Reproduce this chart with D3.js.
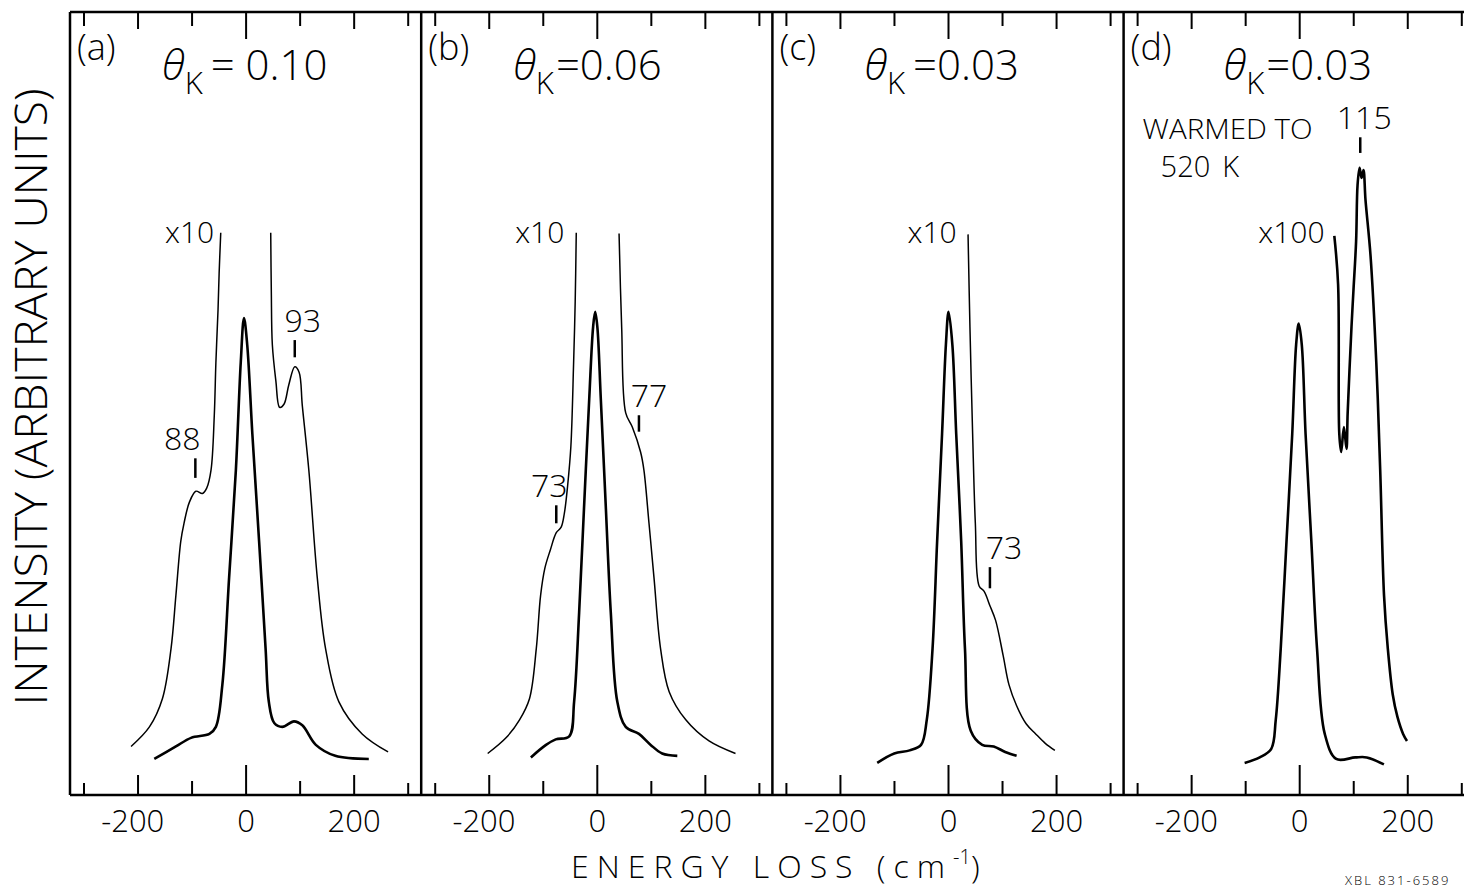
<!DOCTYPE html>
<html lang="en">
<head>
<meta charset="UTF-8">
<title>Energy loss spectra</title>
<style>
  body { margin: 0; background: #fff; }
  svg text { font-family: "Open Sans", Lato, "DejaVu Sans", sans-serif; font-weight: 300; fill: #000; }
  .frame line { stroke: #000; stroke-width: 2.5px; }
  .axis path, .axis line { stroke: #000; stroke-width: 2px; }
  .axis text { font-size: 31px; }
  .thick { fill: none; stroke: #000; stroke-width: 2.6px; stroke-linejoin: round; }
  .thin { fill: none; stroke: #000; stroke-width: 1.5px; stroke-linejoin: round; }
</style>
</head>
<body>
<div class="chart"></div>
<script src="https://cdnjs.cloudflare.com/ajax/libs/d3/7.8.5/d3.min.js"></script>
<script>
// panel captions
const panelTags = ["(a)", "(b)", "(c)", "(d)"];
const thetaK = ["0.10", "0.06", "0.03", "0.03"];
const gainLabels = ["x10", "x10", "x10", "x100"];
const xTicks = [-300, -200, -100, 0, 100, 200, 300];
const xTickLabels = [-200, 0, 200];

// [energy loss (cm-1), intensity (arb.)]
const aMain = [[-169,4.6],[-129,6.2],[-101,7.3],[-67,7.8],[-55,8.7],[-43,14.1],[-30.5,27.8],[-18,41.5],[-9,55.2],[-3,60.9],[3,57.5],[12.5,46.1],[25,32.4],[37,18.7],[43,11.9],[53,9.2],[68,8.7],[89.5,9.4],[105,8.9],[130,6.4],[166,5.0],[228,4.6]];
const aWingL = [[-212,6.2],[-178,8.7],[-154,12.3],[-138,18.7],[-129,25.5],[-120,32.4],[-114,34.7],[-104,37.4],[-92,38.8],[-80,38.5],[-72,39.2],[-64,41.5],[-58,48.4],[-55,55.2],[-51,62],[-49,66.6],[-46,71.8]];
const aWingR = [[46.5,71.8],[47.6,64.3],[49.5,57.5],[56,52.9],[63,49.5],[71,49.9],[80,52.4],[91,54.7],[99,54.0],[105,49.7],[117,41.5],[132.6,27.8],[148,18.7],[172.7,11.9],[215.7,7.8],[263.7,5.5]];

const bMain = [[-122,4.8],[-94,6.4],[-76,7.1],[-51,7.5],[-42,11.9],[-32.7,23.3],[-23.5,36.9],[-14,50.6],[-6.8,59.8],[-3,61.7],[1,59.8],[7.4,50.6],[16.6,36.9],[25.9,23.3],[38,11.9],[53.5,8.7],[78,7.8],[99.7,6.4],[121,5.3],[149,5.0]];
const bWingL = [[-202,5.3],[-168,7.3],[-143,9.6],[-124.6,12.3],[-112,18.7],[-104,25.5],[-96,29.0],[-86,31.3],[-75,33.5],[-66,34.2],[-60,36.0],[-54,39.5],[-48,44.5],[-43,55.0],[-40,63.0],[-38,71.8]];
const bWingR = [[41.2,71.7],[46,59.8],[53.5,48.8],[65.7,47],[81,43.8],[87.2,41.5],[96.6,34.7],[105.8,27.8],[118,18.7],[133.9,13.2],[164.7,9.6],[207.7,6.9],[256.7,5.3]];

const cMain = [[-131,4.1],[-99.5,5.3],[-71,5.7],[-49.9,6.4],[-39.3,9.6],[-28.6,18.7],[-20.1,32.4],[-11,46.1],[-3.9,57.5],[1,61.7],[8.1,57.5],[15.2,46.1],[24.4,32.4],[31.4,18.7],[42.1,8.2],[63.3,6.4],[84.6,6.2],[105.8,5.5],[127,5.0]];
const cWingR = [[37.1,71.6],[40.6,59.8],[45.6,46.1],[50.6,34.7],[57.6,26.7],[66.9,26.0],[77.4,24.2],[88.1,22.3],[102.1,17.8],[112.8,14.1],[127,11.4],[144.6,9.1],[162.3,7.8],[180,6.6],[197.8,5.7]];

const dMain = [[-101,4.1],[-73,4.8],[-51.7,5.9],[-43.4,9.6],[-34.2,18.7],[-23.5,32.4],[-12.9,46.1],[-5.7,57.5],[-0.9,60.2],[4.8,57.5],[11.8,46.1],[22.5,32.4],[33,18.7],[47.3,7.8],[68.5,4.6],[103.8,4.8],[125,4.8],[156.8,3.9]];
const dWingR = [[65,71.4],[72,65.2],[74.2,46.1],[77.7,43.8],[82.7,47],[87.5,44.2],[89.7,48.8],[96.8,59.8],[100.3,64.3],[105.3,70.7],[108,77.9],[111.7,80.1],[115.4,78.8],[119,79.8],[122.7,76],[132,68.9],[142.7,55.2],[149.9,41.5],[157,25.5],[164,18.7],[173.2,12.8],[181.7,10.0],[192.3,7.8],[199.5,6.9]];

const mainCurves = [aMain, bMain, cMain, dMain];
const wingCurves = [[aWingL, aWingR], [bWingL, bWingR], [cWingR], [dWingR]];

// peak marks: panel, energy, tick bottom/top intensity, label
const peakMarks = [
  {p: 0, e: -93, i0: 40.5, i1: 43.0, label: "88"},
  {p: 0, e: 91, i0: 55.9, i1: 58.1, label: "93"},
  {p: 1, e: -75, i0: 34.7, i1: 37.0, label: "73"},
  {p: 1, e: 78, i0: 46.4, i1: 48.5, label: "77"},
  {p: 2, e: 77.6, i0: 26.4, i1: 29.1, label: "73"},
  {p: 3, e: 113, i0: 82.0, i1: 84.0, label: "115"}
];
// horizontal nudge of each peak label from its tick (px)
const peakLabelShift = [-13, 8, -7, 10, 14, 4];

const width = 1464, height = 888;
const plotTop = 12, plotBottom = 795;
const panelLeft = 70, panelW = 351.2;

const svg = d3.select(".chart").append("svg")
  .attr("width", width)
  .attr("height", height);

const y = d3.scaleLinear().domain([0, 100]).range([plotBottom, plotTop]);

const line = d3.line()
  .x(d => d[0]).y(d => d[1])
  .curve(d3.curveCatmullRom.alpha(0.5));

// tick lengths (bottom / top)
function botLen(v) { return v === 0 ? 30 : Math.abs(v) === 200 ? 20 : Math.abs(v) === 300 ? 12 : 14; }
function topLen(v) { return v === 0 ? 27 : Math.abs(v) === 200 ? 17 : 14; }

panelTags.forEach(function (tag, i) {
  const left = panelLeft + i * panelW;
  const x = d3.scaleLinear().domain([-325, 325]).range([left, left + panelW]);
  const g = svg.append("g").attr("class", "panel");

  // bottom axis with labels
  const bAxis = g.append("g").attr("class", "axis")
    .attr("transform", "translate(0," + plotBottom + ")")
    .call(d3.axisBottom(x).tickValues(xTicks).tickSize(-14).tickSizeOuter(0).tickPadding(15)
      .tickFormat(d => xTickLabels.includes(d) ? (d < 0 ? "-" + Math.abs(d) : d) : ""));
  bAxis.selectAll(".tick line").attr("y2", d => -botLen(d));
  bAxis.selectAll(".tick text").attr("dx", d => d < 0 ? "-0.17em" : 0);
  bAxis.select(".domain").remove();

  // top axis, ticks only
  const tAxis = g.append("g").attr("class", "axis")
    .attr("transform", "translate(0," + plotTop + ")")
    .call(d3.axisTop(x).tickValues(xTicks).tickSize(-14).tickSizeOuter(0).tickFormat(""));
  tAxis.selectAll(".tick line").attr("y2", d => topLen(d));
  tAxis.select(".domain").remove();

  // curves
  g.append("path").attr("class", "thick")
    .attr("d", line(mainCurves[i].map(d => [x(d[0]), y(d[1])])));
  wingCurves[i].forEach(function (w) {
    g.append("path").attr("class", i === 3 ? "thick" : "thin")
      .attr("d", line(w.map(d => [x(d[0]), y(d[1])])));
  });

  // captions
  g.append("text").attr("x", left + 7).attr("y", 60)
    .attr("font-size", 36).text(tag);
  const th = g.append("text").attr("x", left + 92 + (i === 3 ? 8 : 0)).attr("y", 80)
    .attr("font-size", 42);
  th.append("tspan").attr("font-style", "italic").text("θ");
  th.append("tspan").attr("font-size", 31).attr("dy", 14).text("K");
  th.append("tspan").attr("dy", -14).attr("dx", i === 0 || i === 2 ? 8 : 2).text((i === 0 ? "= " : "=") + thetaK[i]);

  // gain label next to the clipped wing
  const gainE = [-58, -60, 16, 47][i];
  g.append("text").attr("x", x(gainE)).attr("y", y(70.5))
    .attr("text-anchor", "end").attr("font-size", 30).text(gainLabels[i]);
});

// peak marks
peakMarks.forEach(function (m, k) {
  const left = panelLeft + m.p * panelW;
  const x = d3.scaleLinear().domain([-325, 325]).range([left, left + panelW]);
  svg.append("line")
    .attr("x1", x(m.e)).attr("x2", x(m.e))
    .attr("y1", y(m.i0)).attr("y2", y(m.i1))
    .attr("stroke", "#000").attr("stroke-width", 2.5);
  svg.append("text")
    .attr("x", x(m.e) + peakLabelShift[k]).attr("y", y(m.i1) - 8)
    .attr("text-anchor", "middle").attr("font-size", 32).text(m.label);
});

// warmed note in panel (d)
const noteLeft = panelLeft + 3 * panelW;
svg.append("text").attr("x", noteLeft + 19).attr("y", 139).attr("font-size", 28)
  .attr("textLength", 170).attr("lengthAdjust", "spacingAndGlyphs").text("WARMED TO");
const n2 = svg.append("text").attr("x", noteLeft + 37).attr("y", 177).attr("font-size", 29);
n2.append("tspan").text("520");
n2.append("tspan").attr("dx", 12).text("K");

// frame
const frame = svg.append("g").attr("class", "frame");
frame.append("line").attr("x1", panelLeft).attr("x2", width).attr("y1", plotTop).attr("y2", plotTop);
frame.append("line").attr("x1", panelLeft).attr("x2", width).attr("y1", plotBottom).attr("y2", plotBottom);
d3.range(5).forEach(function (k) {
  frame.append("line")
    .attr("x1", panelLeft + k * panelW).attr("x2", panelLeft + k * panelW)
    .attr("y1", plotTop).attr("y2", plotBottom);
});

// axis titles
svg.append("text")
  .attr("transform", "translate(47,397) rotate(-90)")
  .attr("text-anchor", "middle").attr("font-size", 44)
  .attr("textLength", 617).attr("lengthAdjust", "spacingAndGlyphs")
  .text("INTENSITY (ARBITRARY UNITS)");

const xt = svg.append("text").attr("x", 571).attr("y", 878).attr("font-size", 32);
xt.append("tspan").attr("letter-spacing", 8).text("ENERGY LOSS (cm");
xt.append("tspan").attr("font-size", 20).attr("dy", -14).text("-1");
xt.append("tspan").attr("dy", 14).text(")");

svg.append("text").attr("x", 1345).attr("y", 885).attr("font-size", 13)
  .attr("font-weight", 700).attr("letter-spacing", 2).text("XBL 831-6589");
</script>
</body>
</html>
